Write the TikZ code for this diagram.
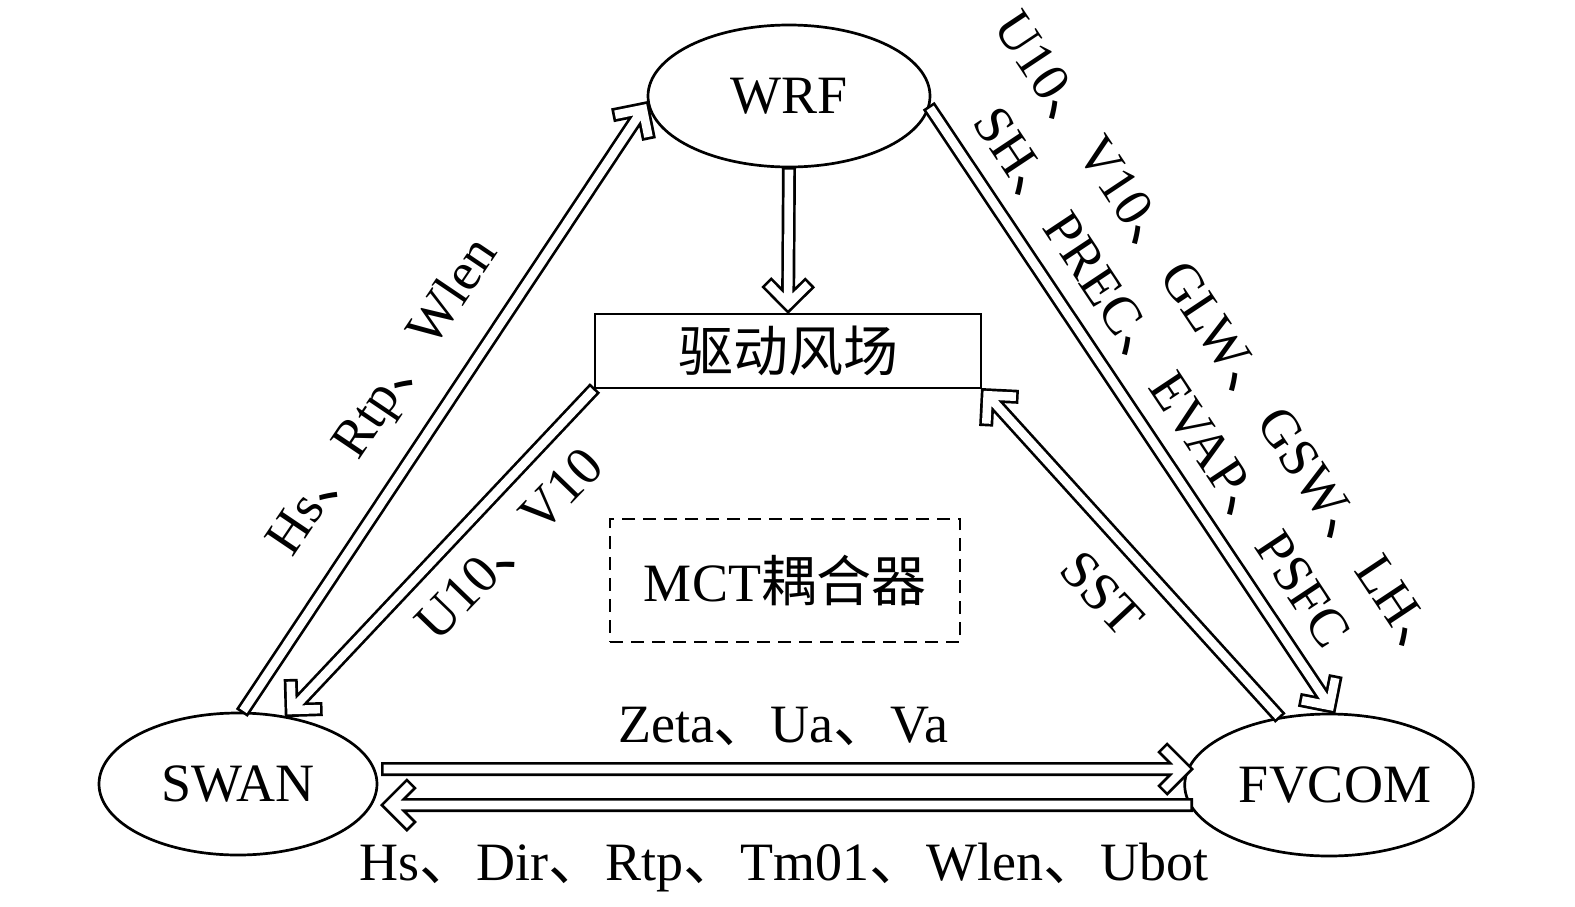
\documentclass[tikz,border=0pt]{standalone}
\usepackage{fontspec}
\setmainfont{Liberation Serif}
\newfontfamily\cjk{Noto Sans CJK SC}
\usetikzlibrary{calc,shapes.geometric}
\newcommand\dun{{\cjk\fontsize{28.5pt}{30pt}\selectfont 、}}
\newcommand\harrow[2]{%
  \coordinate (hTail) at ($(#1)!3.5pt!(#2)$);
  \coordinate (hT) at ($(#2)!4.95pt!(#1)$);
  \coordinate (hA) at ($(hT)!12pt!45:(hTail)$);
  \coordinate (hB) at ($(hT)!12pt!-45:(hTail)$);
  \draw[line width=7pt, line cap=rect, line join=miter]
    (hTail) -- ($(hT)!3.5pt!(hTail)$) (hA) -- (hT) -- (hB);
  \draw[line width=4.3pt, white, line cap=rect, line join=miter]
    (hTail) -- ($(hT)!2.15pt!(hTail)$) (hA) -- (hT) -- (hB);
}
\begin{document}
\begin{tikzpicture}[x=0.5pt,y=-0.5pt, line width=1.35pt,
  every node/.style={font=\fontsize{27pt}{30pt}\selectfont, outer sep=0pt},
  model/.style={draw, ellipse, fill=white, inner sep=0pt, minimum width=141pt, minimum height=71pt},
  box/.style={draw, inner sep=0pt, minimum width=193pt, minimum height=37pt},
  coupler/.style={draw, dash pattern=on 6.5pt off 4pt, inner sep=0pt, minimum width=175pt, minimum height=61.5pt}]
\useasboundingbox[fill=white] (0,0) rectangle (1575,906);

\node[model] (wrf) at (789,96) {WRF};
\node[model, minimum width=139pt] (swan) at (238,784) {SWAN};
\node[model] (fvcom) at (1329,785) {\hspace*{6pt}FVCOM};
\node[box] (field) at (788,351) {\cjk\fontsize{27.5pt}{30pt}\selectfont 驱动风场};
\node[coupler] (mct) at (785,580.5) {MCT{\cjk\fontsize{27.5pt}{30pt}\selectfont 耦合器}};

\coordinate (sTop) at ($(swan.center)+(143,-15)$);
\coordinate (fTop) at ($(fvcom.center)+(-135,-16)$);
\coordinate (fBot) at ($(fvcom.center)+(-136,20)$);
\coordinate (sBot) at ($(swan.center)+(142,21)$);

\harrow{wrf.south}{field.north}
\harrow{swan.87}{wrf.182}
\harrow{field.south west}{swan.55}
\harrow{fvcom.126}{field.south east}
\harrow{wrf.-4}{fvcom.85}
\harrow{sTop}{fTop}
\harrow{fBot}{sBot}

\node[rotate=56] (l1) at (385,398) {Hs\dun Rtp\dun Wlen};
\node[rotate=46] (l2) at (510,545) {U10\dun V10};
\node[rotate=-47] (l3) at (1102,594) {SST};
\node[rotate=-56.4] (l4) at (1222,343) {U10\dun V10\dun GLW\dun GSW\dun LH\dun};
\node[rotate=-56.4] (l5) at (1161,378) {SH\dun PREC\dun EVAP\dun PSFC};
\node[anchor=base] (l6) at (783,742) {Zeta\dun Ua\dun Va};
\node[anchor=base] (l7) at (784,880) {Hs\dun Dir\dun Rtp\dun Tm01\dun Wlen\dun Ubot};
\end{tikzpicture}
\end{document}
